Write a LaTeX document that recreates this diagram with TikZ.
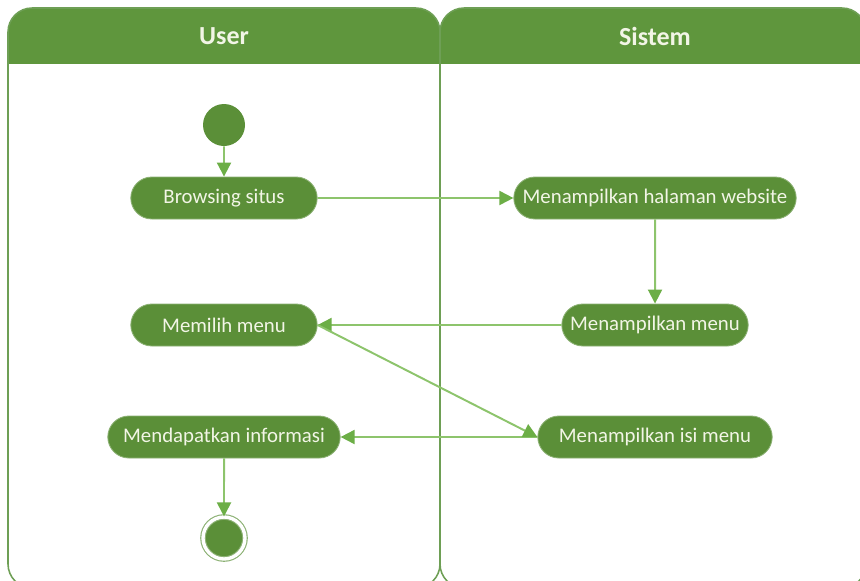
\documentclass[tikz,border=0pt]{standalone}
\usepackage{fontspec}
\setmainfont{Carlito}
\usetikzlibrary{shapes.misc,arrows.meta}
\definecolor{lane head}{HTML}{5F963D}
\definecolor{lane edge}{HTML}{6E9F55}
\definecolor{act fill}{HTML}{5B8F38}
\definecolor{flow line}{HTML}{8DC46C}
\definecolor{flow tip}{HTML}{6CAE46}
\definecolor{act text}{HTML}{F2F5E6}
\def\px{0.025cm}
\tikzset{
  lane/.style={draw=lane edge, line width=1.1pt, rounded corners=0.6cm},
  lanetitle/.style={text=act text, font=\fontsize{18.5}{22}\selectfont\bfseries}
  }
\tikzstyle{action}=[rounded rectangle, fill=act fill, draw=act fill!70!white, line width=0.6pt, text=act text, minimum height=42*\px, inner xsep=2pt, font=\fontsize{14.8}{17}\selectfont]
\tikzstyle{initial}=[circle, fill=act fill, minimum size=42*\px, inner sep=0pt]
\tikzstyle{final}=[circle, fill=act fill, draw=act fill!70!white, line width=0.8pt, double=white, double distance=2.4pt, minimum size=42*\px, inner sep=0pt]
\tikzstyle{flow}=[draw=flow line, line width=1.4pt, -{Triangle[length=10pt, width=10pt, color=flow tip]}]

\begin{document}
\begin{tikzpicture}[x=\px, y=-\px]
    \clip (0,0) rectangle (860,580);
    \useasboundingbox (0,0) rectangle (860,580);

    % swimlanes
    \begin{scope}
      \clip (0,0) rectangle (880,63);
      \foreach \a/\b in {8/440, 440/866}
          \fill[lane head, rounded corners=0.6cm] (\a,8) rectangle (\b,588);
    \end{scope}
    \foreach \a/\b in {8/440, 440/866}
        \draw[lane] (\a,8) rectangle (\b,588);
    \node[lanetitle] (user) at (224,36) {User};
    \node[lanetitle] (sistem) at (655,36) {Sistem};

    % activities
    \node[initial] (start) at (224,125) {};
    \foreach \pos/\name/\w/\txt in {{(224,198)/browse/192/Browsing situs},
                                    {(655,198)/page/288/Menampilkan halaman website},
                                    {(655,325)/showmenu/192/Menampilkan menu},
                                    {(224,325)/pick/192/Memilih menu},
                                    {(655,437)/content/240/Menampilkan isi menu},
                                    {(224,437)/info/238/Mendapatkan informasi}} {
        \node[action, minimum width=\w*\px] (\name) at \pos {\txt};
    }
    \node[final] (stop) at (224,538) {};

    \foreach \source/\sink in {start/browse, browse/page, page/showmenu, showmenu/pick, content/info, info/stop} {
        \path[flow] (\source) -- (\sink);
    }
    \path[flow] (pick.east) -- (content.west);
\end{tikzpicture}
\end{document}
